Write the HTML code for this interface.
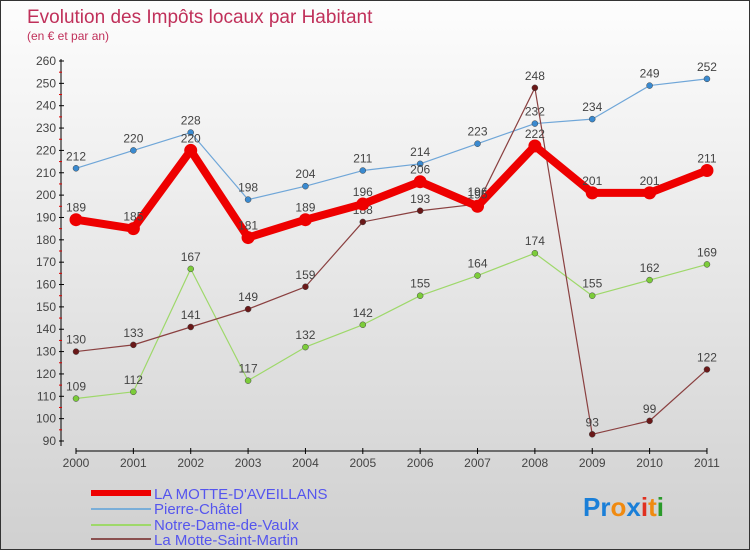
<!DOCTYPE html>
<html><head><meta charset="utf-8"><style>
body{margin:0}
#c{width:750px;height:550px;position:relative;box-sizing:border-box;border:1px solid #333;background:linear-gradient(#fdfdfd,#d0d0d0);font-family:"Liberation Sans",sans-serif;overflow:hidden}
svg text{font-family:"Liberation Sans",sans-serif}
</style></head><body>
<div id="c">
<svg id="s" width="750" height="550">
<text x="26" y="22" font-size="19" fill="#c0305a">Evolution des Impôts locaux par Habitant</text>
<text x="26" y="39" font-size="12" fill="#c0305a">(en € et par an)</text>
<g id="leg">
<rect x="90" y="489" width="60" height="6" fill="#e00"/>
<text x="153" y="498" font-size="15" fill="#5555ee">LA MOTTE-D'AVEILLANS</text>
<line x1="90" x2="150" y1="508" y2="508" stroke="#7aaed8" stroke-width="2"/>
<text x="153" y="513" font-size="15" fill="#5555ee">Pierre-Châtel</text>
<line x1="90" x2="150" y1="524" y2="524" stroke="#9ed86a" stroke-width="2"/>
<text x="153" y="529" font-size="15" fill="#5555ee">Notre-Dame-de-Vaulx</text>
<line x1="90" x2="150" y1="538" y2="538" stroke="#8a5050" stroke-width="2"/>
<text x="153" y="544" font-size="15" fill="#5555ee">La Motte-Saint-Martin</text>
</g>
<g><text x="582" y="515" font-size="26" font-weight="bold"><tspan fill="#1a7fd8">Pr</tspan><tspan fill="#f08a10">o</tspan><tspan fill="#1a7fd8">x</tspan><tspan fill="#e03020">i</tspan><tspan fill="#f08a10">t</tspan><tspan fill="#2a9a2a">i</tspan></text></g>
</svg></div>
<script>
const years=[2000,2001,2002,2003,2004,2005,2006,2007,2008,2009,2010,2011];
const yTicks=[90,100,110,120,130,140,150,160,170,180,190,200,210,220,230,240,250,260];
const motteAveillans=[189,185,220,181,189,196,206,195,222,201,201,211];
const pierreChatel=[212,220,228,198,204,211,214,223,232,234,249,252];
const notreDame=[109,112,167,117,132,142,155,164,174,155,162,169];
const motteStMartin=[130,133,141,149,159,188,193,196,248,93,99,122];
const NS="http://www.w3.org/2000/svg",s=document.getElementById('s');
const X=i=>75+i*57.36, Y=v=>440-(v-90)*2.2353;
function mk(t,a,p){const e=document.createElementNS(NS,t);for(const k in a)e.setAttribute(k,a[k]);(p||s).appendChild(e);return e;}
const ax=mk('g',{});


const ya=mk('line',{x1:60,x2:60,y1:58,y2:445,stroke:'#000'},ax);


yTicks.forEach(v=>{mk('line',{x1:58,x2:63,y1:Y(v),y2:Y(v),stroke:'#000'},ax);
if(v<260)mk('line',{x1:58,x2:61,y1:Y(v+5),y2:Y(v+5),stroke:'#d00'},ax);
const t=mk('text',{x:55,y:Y(v)+4,'font-size':12,fill:'#444','text-anchor':'end'},ax);t.textContent=v;

});
const xa=mk('line',{x1:75,x2:X(11),y1:450,y2:450,stroke:'#000'},ax);


years.forEach((y,i)=>{mk('line',{x1:X(i),x2:X(i),y1:447,y2:453,stroke:'#000'},ax);
const t=mk('text',{x:X(i),y:466,'font-size':12,fill:'#444','text-anchor':'middle'},ax);t.textContent=y;

});
function series(d,name,col,w,r,dot){const g=mk('g',{});


const l=mk('polyline',{points:d.map((v,i)=>X(i)+','+Y(v)).join(' '),fill:'none',stroke:col,'stroke-width':w,'stroke-linejoin':'round'},g);


d.forEach((v,i)=>{const c=mk('circle',{cx:X(i),cy:Y(v),r:r,fill:dot,stroke:w>3?'none':'#444','stroke-width':0.5},g);


const t=mk('text',{x:X(i),y:Y(v)-8,'font-size':12,fill:'#444','text-anchor':'middle'},g);t.textContent=v;

});}
series(pierreChatel,'pierre-chatel','#6fa6d8',1.2,3,'#3a8ad0');
series(notreDame,'notre-dame','#9ed86a',1.2,3,'#7ccc3a');
series(motteStMartin,'motte-saint-martin','#8a4040',1.2,3,'#6a1818');
series(motteAveillans,'motte-daveillans','#ee0000',8,6.5,'#ee0000');
</script>
</body></html>
